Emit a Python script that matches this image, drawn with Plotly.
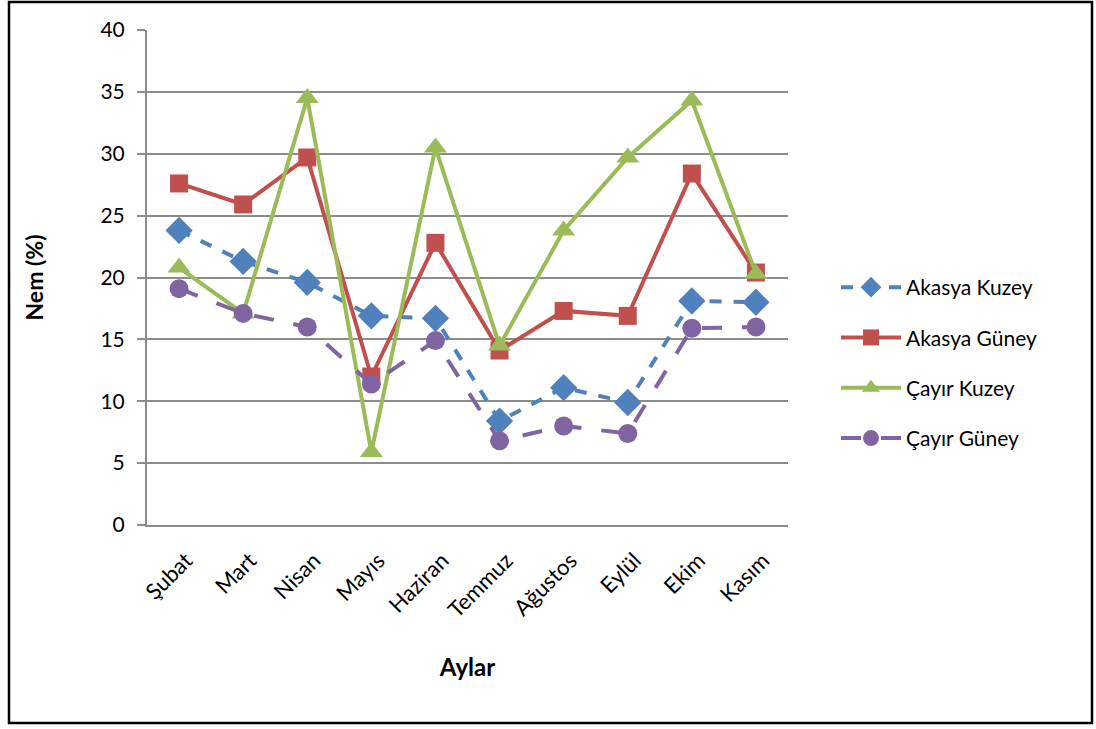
import plotly.graph_objects as go

# Months (x categories)
aylar = ["Şubat", "Mart", "Nisan", "Mayıs", "Haziran", "Temmuz",
         "Ağustos", "Eylül", "Ekim", "Kasım"]

# Moisture (%) per site
akasya_kuzey = [23.8, 21.3, 19.6, 16.9, 16.7, 8.4, 11.1, 9.9, 18.1, 18.0]
akasya_guney = [27.6, 25.9, 29.7, 12.0, 22.8, 14.1, 17.3, 16.9, 28.4, 20.4]
cayir_kuzey = [20.8, 17.1, 34.5, 5.9, 30.5, 14.5, 23.8, 29.7, 34.3, 20.3]
cayir_guney = [19.1, 17.1, 16.0, 11.4, 14.9, 6.8, 8.0, 7.4, 15.9, 16.0]

y_ticks = [0, 5, 10, 15, 20, 25, 30, 35, 40]

FONT = "Lato, 'Open Sans', sans-serif"
GRID = "#8c8c8c"

series = [
    ("Akasya Kuzey", akasya_kuzey, "#4F81BD", "dash", "diamond", 21),
    ("Akasya Güney", akasya_guney, "#C0504D", "solid", "square", 18),
    ("Çayır Kuzey", cayir_kuzey, "#9BBB59", "solid", "triangle-up", 20),
    ("Çayır Güney", cayir_guney, "#8064A2", "longdash", "circle", 19),
]

fig = go.Figure()
for i, (name, vals, color, dash, symbol, size) in enumerate(series):
    fig.add_trace(go.Scatter(
        x=aylar, y=vals, name=name, mode="lines+markers",
        legendgroup=f"g{i}",
        line=dict(color=color, width=4, dash=dash),
        marker=dict(symbol=symbol, size=size, color=color,
                    line=dict(width=0)),
    ))

# Plot area in pixels: x 147..788, y 30..525
L, R, T, B = 147, 788, 30, 525
W, H = 1096, 729
pw, ph = R - L, B - T


def px(x):
    return (x - L) / pw


def py(y):
    return (B - y) / ph


fig.update_layout(
    width=W, height=H,
    margin=dict(l=L, r=W - R, t=T, b=H - B, pad=0),
    paper_bgcolor="white", plot_bgcolor="white",
    font=dict(family=FONT, size=21, color="black"),
    showlegend=True,
    legend=dict(
        x=px(836), y=py(363), xanchor="left", yanchor="middle",
        font=dict(family=FONT, size=21, color="black"),
        traceorder="grouped", tracegroupgap=20,
        itemwidth=60, bgcolor="rgba(0,0,0,0)",
    ),
    xaxis=dict(
        type="category", categoryorder="array", categoryarray=aylar,
        range=[-0.5, len(aylar) - 0.5],
        showgrid=False, showline=True, linecolor=GRID, linewidth=2,
        ticks="outside", ticklen=12, tickcolor="rgba(0,0,0,0)",
        tickangle=-45, ticklabelshift=7,
        tickfont=dict(family=FONT, size=22),
        title=dict(text="<b>Aylar</b>", font=dict(family=FONT, size=24),
                   standoff=38),
    ),
    yaxis=dict(
        range=[0, 40], tickvals=y_ticks,
        showgrid=True, gridcolor=GRID, gridwidth=1.5,
        zeroline=False,
        showline=True, linecolor=GRID, linewidth=2,
        ticks="outside", ticklen=8, tickcolor=GRID, tickwidth=1.5,
        ticklabelstandoff=8,
        tickfont=dict(family=FONT, size=21),
        title=dict(text="<b>Nem (%)</b>", font=dict(family=FONT, size=23),
                   standoff=50),
    ),
    shapes=[
        # outer chart frame
        dict(type="rect", xref="paper", yref="paper",
             x0=px(9), x1=px(1092), y0=py(2), y1=py(723),
             line=dict(color="black", width=2.5), layer="below"),
    ],
)

fig.write_html("out.html")
